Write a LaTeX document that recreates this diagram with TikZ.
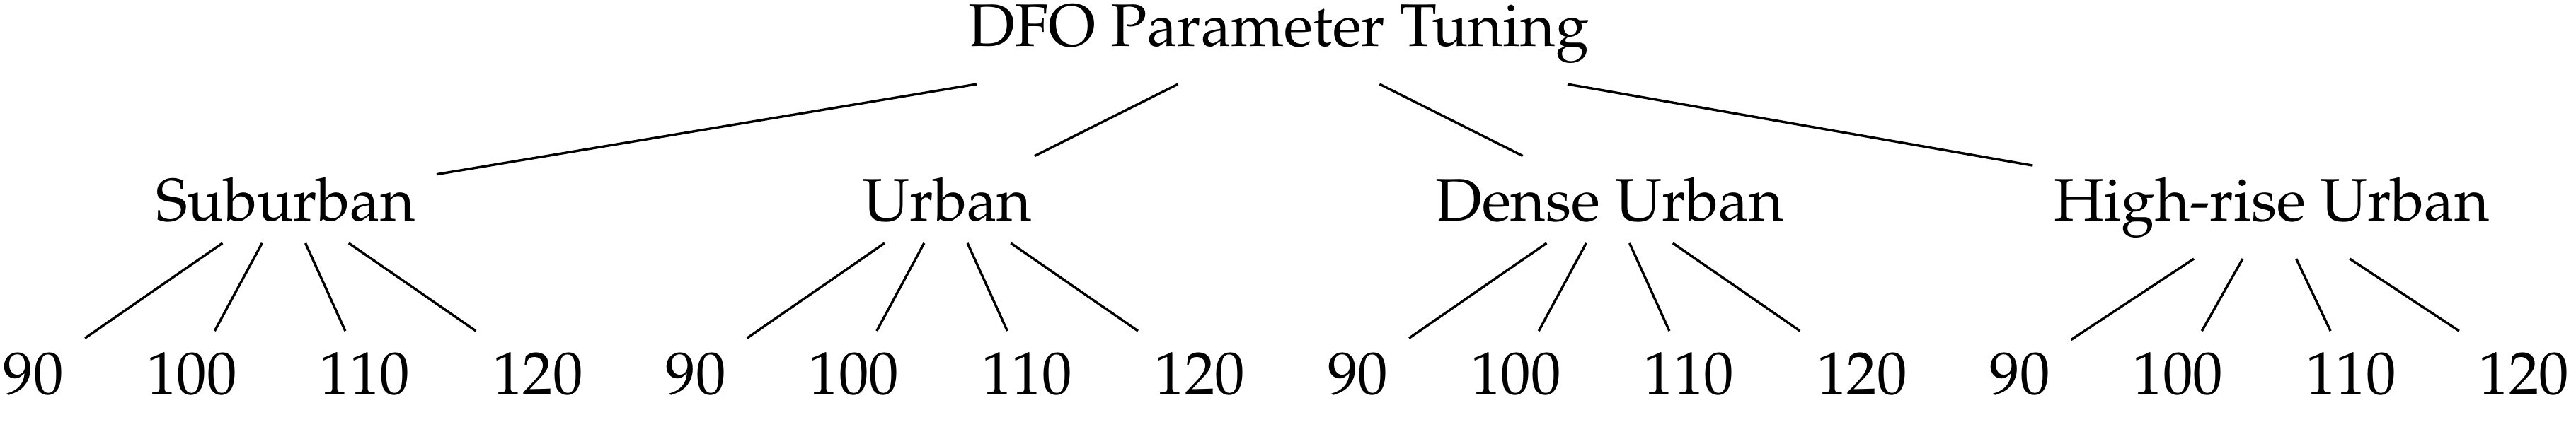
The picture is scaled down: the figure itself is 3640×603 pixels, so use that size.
\documentclass[tikz,border=0pt]{standalone}
\usepackage[T1]{fontenc}
\renewcommand{\rmdefault}{ppl}
\begin{document}
\begin{tikzpicture}[x=0.11765pt,y=-0.11765pt,
  treenode/.style={font=\fontfamily{ppl}\selectfont\fontsize{10pt}{12pt}\selectfont, inner sep=3.333pt, anchor=base},
  treeedge/.style={line width=0.4pt, black}]
\useasboundingbox (0,0) rectangle (3640,603);
\node[treenode] (root) at (1807,65) {DFO Parameter Tuning};
\foreach \g/\s/\lab in {1/5/Suburban, 2/940.5/Urban, 3/1876/Dense Urban, 4/2811.5/High-rise Urban} {
  \node[treenode] (g\g) at (\s+398.6,312) {\lab};
  \draw[treeedge] (root) -- (g\g);
  \node[treenode] (l\g-1) at (\s+42.5,557) {90};
  \node[treenode] (l\g-2) at (\s+265.75,557) {100};
  \node[treenode] (l\g-3) at (\s+510.25,557) {110};
  \node[treenode] (l\g-4) at (\s+754.75,557) {120};
  \foreach \k in {1,2,3,4} {
    \draw[treeedge] (g\g) -- (l\g-\k);
  }
}
\end{tikzpicture}
\end{document}
